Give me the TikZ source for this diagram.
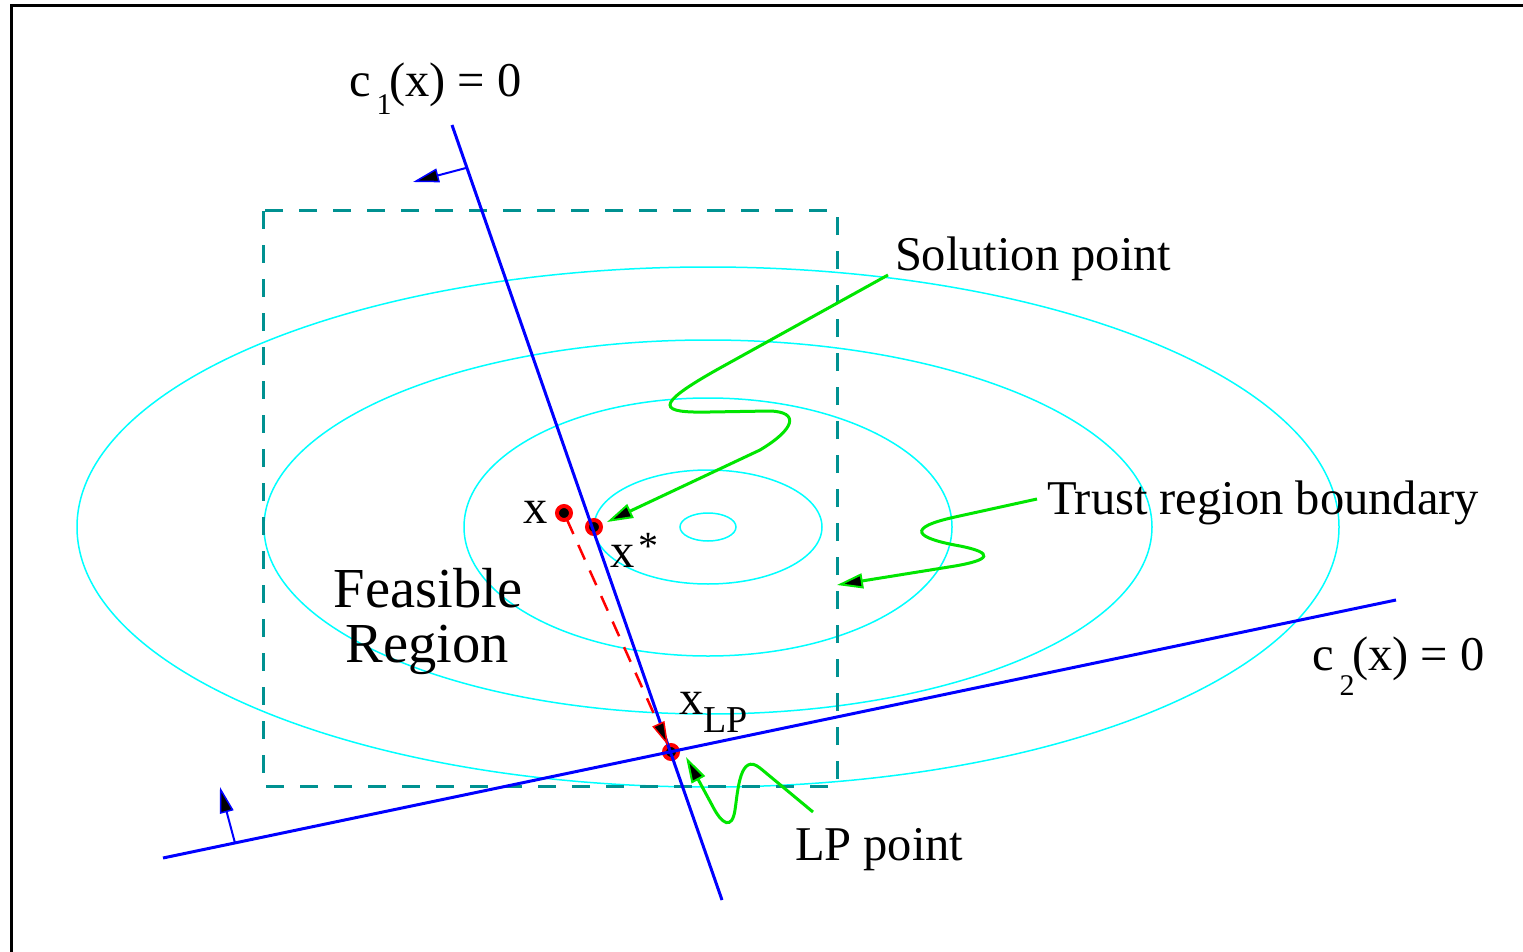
\documentclass[tikz,border=0pt]{standalone}
\usepackage{fontspec}
\setmainfont{Liberation Serif}
\usetikzlibrary{arrows.meta}
\definecolor{trcol}{RGB}{0,145,145}
\definecolor{gcol}{RGB}{0,230,0}
\definecolor{ccol}{RGB}{0,255,255}
\begin{document}
\begin{tikzpicture}[x=1pt,y=-1pt,
  lbl/.style={anchor=base west, inner sep=0pt, outer sep=0pt, font=\fontsize{48.5}{56}\selectfont},
  big/.style={anchor=base, inner sep=0pt, outer sep=0pt, font=\fontsize{56.5}{60}\selectfont},
  contour/.style={draw=ccol, line width=1.5pt},
  trbox/.style={draw=trcol, line width=3pt, dash pattern=on 18pt off 16pt},
  cline/.style={draw=blue, line width=3pt},
  sidearrow/.style={draw=blue, line width=2pt, -{Triangle[length=26pt,width=14pt,fill=black,line width=1.5pt]}},
  pt/.style={circle, draw=red, fill=black, line width=4pt, minimum size=14pt, inner sep=0pt, outer sep=0pt},
  gcurve/.style={draw=gcol, line width=3pt, -{Triangle[length=26pt,width=15pt,fill=black,line width=2pt]}},
  redarr/.style={draw=red, line width=2.5pt, dash pattern=on 16pt off 12pt, -{Triangle[length=24pt,width=13pt,fill=black,line width=1.5pt]}},
]
\useasboundingbox (0,0) rectangle (1523,952);
\fill[white] (0,0) rectangle (1523,952);
% frame
\draw[line width=3pt] (11,960) -- (11,6) -- (1530,6);
% contours
\coordinate (ctr) at (708,527);
\draw[contour] (ctr) ellipse [x radius=28pt, y radius=14pt];
\draw[contour] (ctr) ellipse [x radius=114pt, y radius=57pt];
\draw[contour] (ctr) ellipse [x radius=244pt, y radius=129pt];
\draw[contour] (ctr) ellipse [x radius=444pt, y radius=187pt];
\draw[contour] (ctr) ellipse [x radius=631pt, y radius=260pt];
% trust region box
\draw[trbox] (263,211) rectangle (837,786);
% points
\node[pt] (px) at (564,513) {};
\node[pt] (pstar) at (594,527) {};
\node[pt] (plp) at (671,752) {};
% constraint lines
\coordinate (c1a) at (452,125);
\coordinate (c1b) at (722,900);
\coordinate (c2a) at (163,858);
\coordinate (c2b) at (1396,600);
\draw[cline] (c1a) -- (c1b);
\draw[cline] (c2a) -- (c2b);
\coordinate (c1base) at (466,168);
\coordinate (c1tip) at (413,182);
\coordinate (c2base) at (235,843);
\coordinate (c2tip) at (220,787);
\draw[sidearrow] (c1base) -- (c1tip);
\draw[sidearrow] (c2base) -- (c2tip);
% red step
\draw[redarr] (px) -- (plp);
% green pointers
\coordinate (solA) at (888,275);
\coordinate (solB) at (607,522);
\draw[gcurve] (solA) -- (720,368) .. controls (650,407) and (660,413) .. (710,412) -- (770,411) .. controls (800,412) and (795,429) .. (760,450) -- (solB);
\coordinate (trA) at (1037,499);
\coordinate (trB) at (837,585);
\draw[gcurve] (trA) -- (955,517) .. controls (905,528) and (915,538) .. (960,546) .. controls (995,553) and (990,560) .. (955,566) -- (trB);
\coordinate (lpA) at (813,812);
\coordinate (lpB) at (686,757);
\draw[gcurve] (lpA) -- (760,768) .. controls (740,752) and (738,790) .. (735,810) .. controls (732,830) and (722,825) .. (712,805) -- (lpB);
% labels
\node[lbl] (lc1) at (349,97) {\makebox[40pt][l]{c\hspace{6pt}\raisebox{-18pt}{\fontsize{30}{30}\selectfont 1}}(x) = 0};
\node[lbl] (lc2) at (1312,670) {\makebox[40pt][l]{c\hspace{6pt}\raisebox{-25pt}{\fontsize{30}{30}\selectfont 2}}(x) = 0};
\node[lbl] (lsol) at (895,270) {Solution point};
\node[lbl] (ltr) at (1047,514) {Trust region boundary};
\node[lbl] (llp) at (795,860) {LP point};
\node[big] (lfeas) at (428,607) {Feasible};
\node[big] (lreg) at (427,662) {Region};
\node[lbl] (lx) at (523,523) {x};
\node[lbl] (lxs) at (610,567) {x\hspace{4pt}\raisebox{8pt}{\fontsize{40}{40}\selectfont *}};
\node[lbl] (lxlp) at (679,714) {x\raisebox{-18pt}{\fontsize{38}{38}\selectfont LP}};
\end{tikzpicture}
\end{document}
